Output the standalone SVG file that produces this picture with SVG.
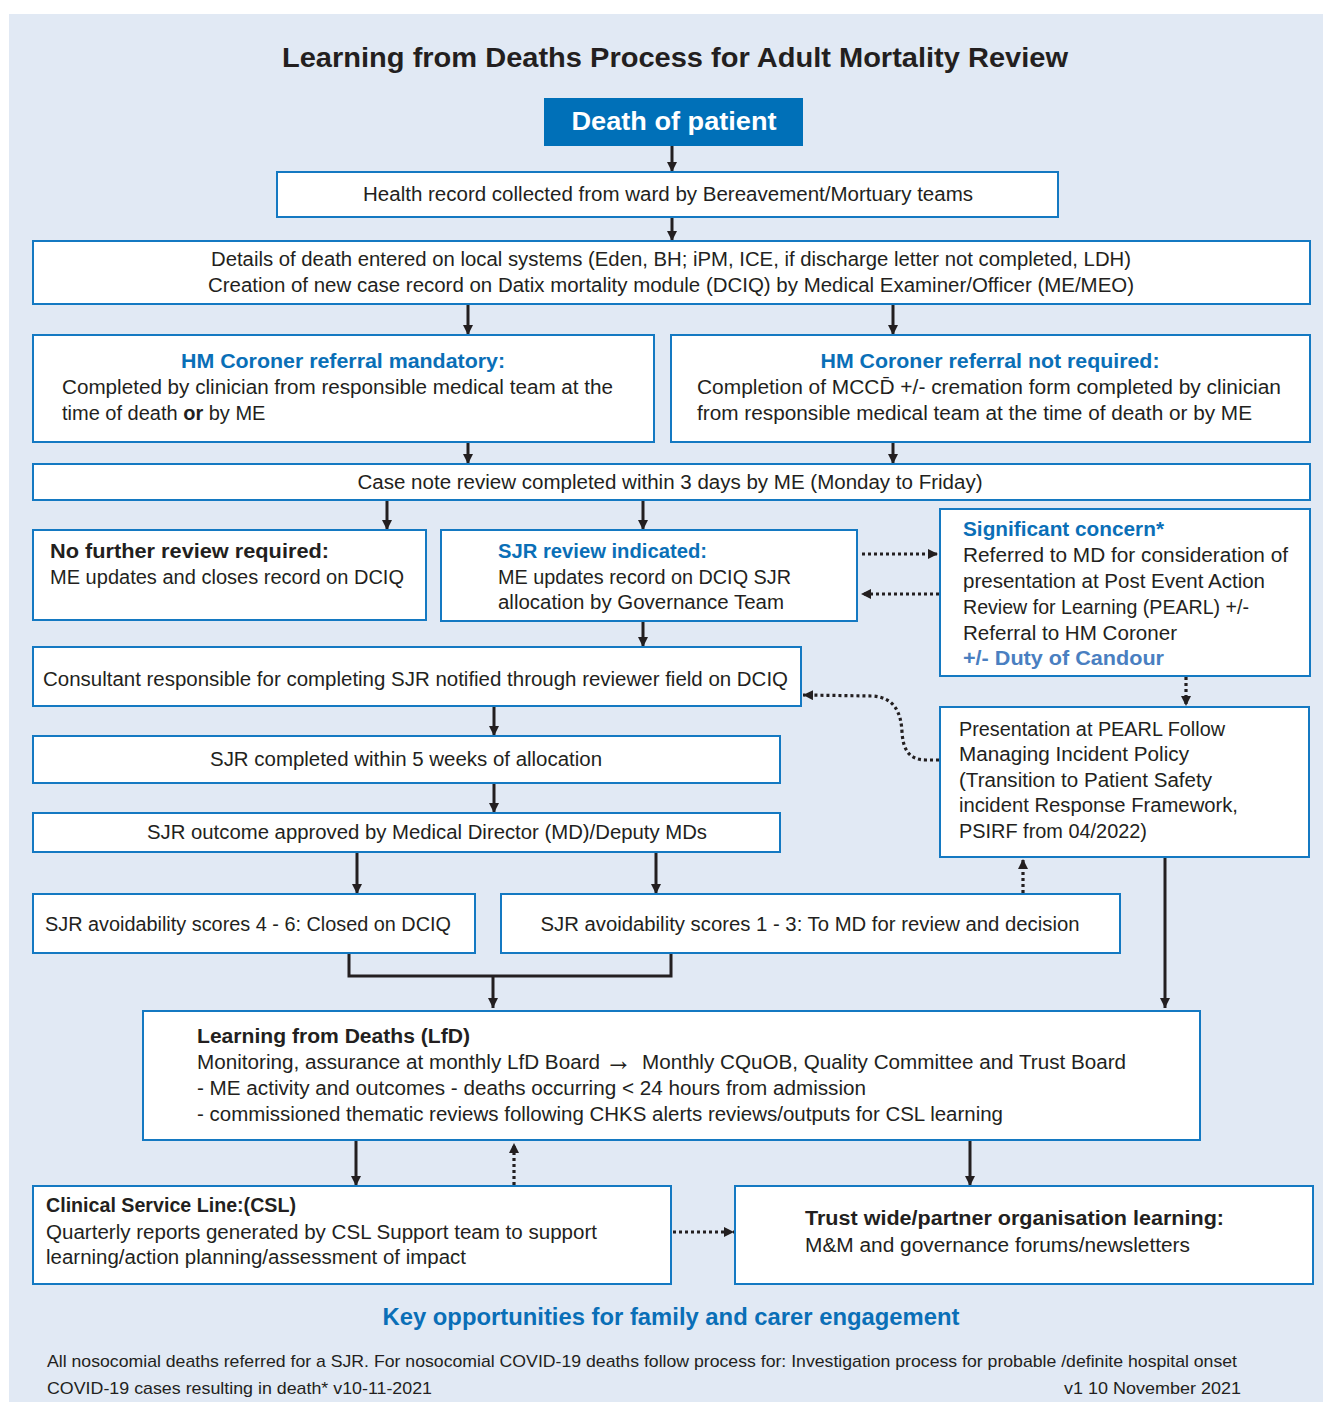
<svg xmlns="http://www.w3.org/2000/svg" width="1323" height="1402" viewBox="0 0 1323 1402">
<style>
text{font-family:"Liberation Sans",Arial,sans-serif;fill:#231f20;font-size:20px}
.b{font-weight:bold}
.h{font-weight:bold;fill:#0a6fb7}
.c{text-anchor:middle}
.box{fill:#fff;stroke:#1479c2;stroke-width:2}
.ln{fill:none;stroke:#231f20;stroke-width:3}
.dt{fill:none;stroke:#231f20;stroke-width:3.2;stroke-dasharray:3 3}
</style>
<defs>
<marker id="ah" viewBox="0 0 10 10" refX="10" refY="5" markerUnits="userSpaceOnUse" markerWidth="10" markerHeight="10" orient="auto"><path d="M0,0 L10,5 L0,10 z" fill="#231f20"/></marker>
</defs>
<rect x="9" y="14" width="1314" height="1388" fill="#e1e9f4"/>
<text x="675" y="67" class="b c" style="font-size:28px" textLength="786" lengthAdjust="spacingAndGlyphs">Learning from Deaths Process for Adult Mortality Review</text>

<g id="connectors">
<path class="ln" d="M672,146 V172" marker-end="url(#ah)"/>
<path class="ln" d="M672,217 V241" marker-end="url(#ah)"/>
<path class="ln" d="M468,304 V335" marker-end="url(#ah)"/>
<path class="ln" d="M893,304 V335" marker-end="url(#ah)"/>
<path class="ln" d="M468,443 V464" marker-end="url(#ah)"/>
<path class="ln" d="M893,443 V464" marker-end="url(#ah)"/>
<path class="ln" d="M387,500 V530" marker-end="url(#ah)"/>
<path class="ln" d="M643,500 V530" marker-end="url(#ah)"/>
<path class="dt" d="M862,554 H938" marker-end="url(#ah)"/>
<path class="dt" d="M939,594 H861" marker-end="url(#ah)"/>
<path class="ln" d="M643,621 V647" marker-end="url(#ah)"/>
<path class="dt" d="M1186,677 V706" marker-end="url(#ah)"/>
<path class="dt" d="M939,760 H926 C908,760 903,748 902,732 C901,712 894,697 872,696 L803,695" marker-end="url(#ah)"/>
<path class="ln" d="M494,707 V736" marker-end="url(#ah)"/>
<path class="ln" d="M494,783 V813" marker-end="url(#ah)"/>
<path class="ln" d="M357,852 V894" marker-end="url(#ah)"/>
<path class="ln" d="M656,852 V894" marker-end="url(#ah)"/>
<path class="dt" d="M1023,893 V859" marker-end="url(#ah)"/>
<path class="ln" d="M349,953 V976 H671 V953"/>
<path class="ln" d="M493,976 V1008" marker-end="url(#ah)"/>
<path class="ln" d="M1165,858 V1008" marker-end="url(#ah)"/>
<path class="ln" d="M356,1141 V1186" marker-end="url(#ah)"/>
<path class="dt" d="M514,1185 V1143" marker-end="url(#ah)"/>
<path class="ln" d="M970,1141 V1186" marker-end="url(#ah)"/>
<path class="dt" d="M673,1232 H734" marker-end="url(#ah)"/>
</g>

<g id="death">
<rect x="544" y="98" width="259" height="48" fill="#0070b8"/>
<text x="674" y="130" class="b c" style="font-size:26px;fill:#fff" textLength="205" lengthAdjust="spacingAndGlyphs">Death of patient</text>
</g>
<g id="health">
<rect class="box" x="277" y="172" width="781" height="45"/>
<text x="668" y="201" class="c" textLength="610" lengthAdjust="spacingAndGlyphs">Health record collected from ward by Bereavement/Mortuary teams</text>
</g>
<g id="details">
<rect class="box" x="33" y="241" width="1277" height="63"/>
<text x="671" y="266" class="c" textLength="920" lengthAdjust="spacingAndGlyphs">Details of death entered on local systems (Eden, BH; iPM, ICE, if discharge letter not completed, LDH)</text>
<text x="671" y="292" class="c" textLength="926" lengthAdjust="spacingAndGlyphs">Creation of new case record on Datix mortality module (DCIQ) by Medical Examiner/Officer (ME/MEO)</text>
</g>
<g id="mandatory">
<rect class="box" x="33" y="335" width="621" height="107"/>
<text x="343" y="368" class="h c" textLength="324" lengthAdjust="spacingAndGlyphs">HM Coroner referral mandatory:</text>
<text x="62" y="394" textLength="551" lengthAdjust="spacingAndGlyphs">Completed by clinician from responsible medical team at the</text>
<text x="62" y="420">time of death <tspan class="b">or</tspan> by ME</text>
</g>
<g id="notrequired">
<rect class="box" x="671" y="335" width="639" height="107"/>
<text x="990" y="368" class="h c" textLength="339" lengthAdjust="spacingAndGlyphs">HM Coroner referral not required:</text>
<text x="697" y="394" textLength="584" lengthAdjust="spacingAndGlyphs">Completion of MCCD̄ +/- cremation form completed by clinician</text>
<text x="697" y="420" textLength="555" lengthAdjust="spacingAndGlyphs">from responsible medical team at the time of death or by ME</text>
</g>
<g id="casenote">
<rect class="box" x="33" y="464" width="1277" height="36"/>
<text x="670" y="489" class="c" textLength="625" lengthAdjust="spacingAndGlyphs">Case note review completed within 3 days by ME (Monday to Friday)</text>
</g>
<g id="nofurther">
<rect class="box" x="33" y="530" width="393" height="90"/>
<text x="50" y="558" class="b" textLength="279" lengthAdjust="spacingAndGlyphs">No further review required:</text>
<text x="50" y="584" textLength="354" lengthAdjust="spacingAndGlyphs">ME updates and closes record on DCIQ</text>
</g>
<g id="sjrindicated">
<rect class="box" x="441" y="530" width="416" height="91"/>
<text x="498" y="558" class="h" textLength="209" lengthAdjust="spacingAndGlyphs">SJR review indicated:</text>
<text x="498" y="584" textLength="293" lengthAdjust="spacingAndGlyphs">ME updates record on DCIQ SJR</text>
<text x="498" y="609" textLength="286" lengthAdjust="spacingAndGlyphs">allocation by Governance Team</text>
</g>
<g id="concern">
<rect class="box" x="940" y="509" width="370" height="167"/>
<text x="963" y="536" class="h" textLength="201" lengthAdjust="spacingAndGlyphs">Significant concern*</text>
<text x="963" y="562" textLength="325" lengthAdjust="spacingAndGlyphs">Referred to MD for consideration of</text>
<text x="963" y="588" textLength="302" lengthAdjust="spacingAndGlyphs">presentation at Post Event Action</text>
<text x="963" y="614" textLength="286" lengthAdjust="spacingAndGlyphs">Review for Learning (PEARL) +/-</text>
<text x="963" y="640" textLength="214" lengthAdjust="spacingAndGlyphs">Referral to HM Coroner</text>
<text x="963" y="665" class="b" style="fill:#4a7fc1" textLength="201" lengthAdjust="spacingAndGlyphs">+/- Duty of Candour</text>
</g>
<g id="consultant">
<rect class="box" x="33" y="647" width="768" height="59"/>
<text x="43" y="686" textLength="745" lengthAdjust="spacingAndGlyphs">Consultant responsible for completing SJR notified through reviewer field on DCIQ</text>
</g>
<g id="presentation">
<rect class="box" x="940" y="707" width="369" height="150"/>
<text x="959" y="736" textLength="266" lengthAdjust="spacingAndGlyphs">Presentation at PEARL Follow</text>
<text x="959" y="761" textLength="230" lengthAdjust="spacingAndGlyphs">Managing Incident Policy</text>
<text x="959" y="787" textLength="253" lengthAdjust="spacingAndGlyphs">(Transition to Patient Safety</text>
<text x="959" y="812" textLength="279" lengthAdjust="spacingAndGlyphs">incident Response Framework,</text>
<text x="959" y="838" textLength="188" lengthAdjust="spacingAndGlyphs">PSIRF from 04/2022)</text>
</g>
<g id="sjrcompleted">
<rect class="box" x="33" y="736" width="747" height="47"/>
<text x="406" y="766" class="c" textLength="392" lengthAdjust="spacingAndGlyphs">SJR completed within 5 weeks of allocation</text>
</g>
<g id="sjroutcome">
<rect class="box" x="33" y="813" width="747" height="39"/>
<text x="427" y="839" class="c" textLength="560" lengthAdjust="spacingAndGlyphs">SJR outcome approved by Medical Director (MD)/Deputy MDs</text>
</g>
<g id="scores46">
<rect class="box" x="33" y="894" width="442" height="59"/>
<text x="45" y="931" textLength="406" lengthAdjust="spacingAndGlyphs">SJR avoidability scores 4 - 6: Closed on DCIQ</text>
</g>
<g id="scores13">
<rect class="box" x="501" y="894" width="619" height="59"/>
<text x="810" y="931" class="c" textLength="539" lengthAdjust="spacingAndGlyphs">SJR avoidability scores 1 - 3: To MD for review and decision</text>
</g>
<g id="lfd">
<rect class="box" x="143" y="1011" width="1057" height="129"/>
<text x="197" y="1043" class="b" textLength="273" lengthAdjust="spacingAndGlyphs">Learning from Deaths (LfD)</text>
<text x="197" y="1069" textLength="403" lengthAdjust="spacingAndGlyphs">Monitoring, assurance at monthly LfD Board</text>
<text x="605" y="1070" class="b" style="font-size:30px" textLength="27" lengthAdjust="spacingAndGlyphs">→</text>
<text x="642" y="1069" textLength="484" lengthAdjust="spacingAndGlyphs">Monthly CQuOB, Quality Committee and Trust Board</text>
<text x="197" y="1095" textLength="669" lengthAdjust="spacingAndGlyphs">- ME activity and outcomes - deaths occurring &lt; 24 hours from admission</text>
<text x="197" y="1121" textLength="806" lengthAdjust="spacingAndGlyphs">- commissioned thematic reviews following CHKS alerts reviews/outputs for CSL learning</text>
</g>
<g id="csl">
<rect class="box" x="33" y="1186" width="638" height="98"/>
<text x="46" y="1212" class="b" textLength="250" lengthAdjust="spacingAndGlyphs">Clinical Service Line:(CSL)</text>
<text x="46" y="1239" textLength="551" lengthAdjust="spacingAndGlyphs">Quarterly reports generated by CSL Support team to support</text>
<text x="46" y="1264" textLength="420" lengthAdjust="spacingAndGlyphs">learning/action planning/assessment of impact</text>
</g>
<g id="trust">
<rect class="box" x="735" y="1186" width="578" height="98"/>
<text x="805" y="1225" class="b" textLength="419" lengthAdjust="spacingAndGlyphs">Trust wide/partner organisation learning:</text>
<text x="805" y="1252" textLength="385" lengthAdjust="spacingAndGlyphs">M&amp;M and governance forums/newsletters</text>
</g>
<text x="671" y="1325" class="h c" style="font-size:24px" textLength="577" lengthAdjust="spacingAndGlyphs">Key opportunities for family and carer engagement</text>
<text x="47" y="1367" style="font-size:17px" textLength="1190" lengthAdjust="spacingAndGlyphs">All nosocomial deaths referred for a SJR. For nosocomial COVID-19 deaths follow process for: Investigation process for probable /definite hospital onset</text>
<text x="47" y="1394" style="font-size:17px" textLength="385" lengthAdjust="spacingAndGlyphs">COVID-19 cases resulting in death* v10-11-2021</text>
<text x="1241" y="1394" style="font-size:17px;text-anchor:end" textLength="177" lengthAdjust="spacingAndGlyphs">v1 10 November 2021</text>
</svg>
